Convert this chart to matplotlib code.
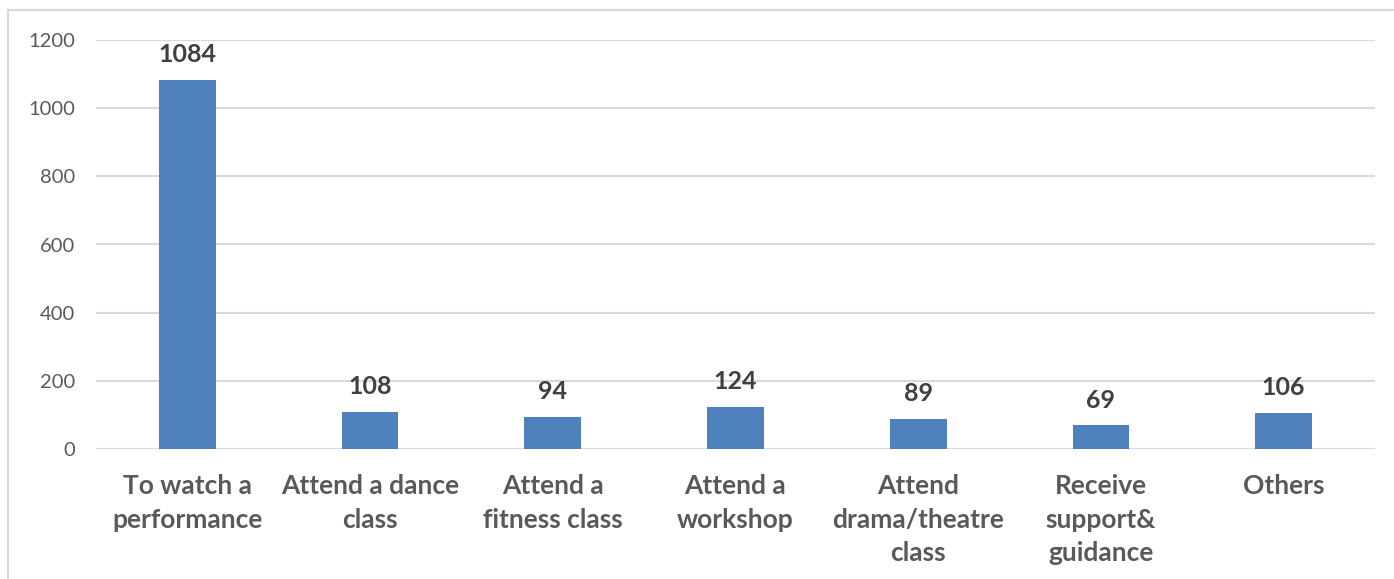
import matplotlib.pyplot as plt
from matplotlib.lines import Line2D
import numpy as np

# Data
categories = ['To watch a\nperformance', 'Attend a dance\nclass', 'Attend a\nfitness class',
              'Attend a\nworkshop', 'Attend\ndrama/theatre\nclass', 'Receive\nsupport&\nguidance',
              'Others']
counts = [1084, 108, 94, 124, 89, 69, 106]
y_ticks = [0, 200, 400, 600, 800, 1000, 1200]

plt.rcParams['font.family'] = ['Lato', 'DejaVu Sans']

fig = plt.figure(figsize=(13.94, 5.79), dpi=100)
ax = fig.add_axes([96 / 1394, 1 - 449 / 579, (1375 - 96) / 1394, (449 - 40) / 579])

x = np.arange(len(categories))
ax.bar(x, counts, width=0.31, color='#4F81BD', zorder=3)

# Value labels above each bar
for xi, v in zip(x, counts):
    ax.annotate(str(v), (xi, v), xytext=(0, 10), textcoords='offset points',
                ha='center', va='bottom', fontsize=18, fontweight='bold', color='#404040')

ax.set_xlim(-0.5, len(categories) - 0.5)
ax.set_ylim(0, 1200)
ax.set_yticks(y_ticks)
ax.set_yticklabels([str(t) for t in y_ticks], fontsize=14.5, color='#595959')
ax.tick_params(axis='y', length=0, pad=15)
ax.set_xticks([])

ax.grid(axis='y', color='#D9D9D9', linewidth=1.5, zorder=0)
for s in ax.spines.values():
    s.set_visible(False)
ax.axhline(0, color='#D9D9D9', linewidth=1.5, zorder=2)

# Category labels under the axis
for xi, c in zip(x, categories):
    ax.text(xi, -0.062, c, transform=ax.get_xaxis_transform(), ha='center', va='top',
            fontsize=19, fontweight='bold', color='#595959', linespacing=1.47)

# Outer chart frame (left and top edges visible)
fig.add_artist(Line2D([8 / 1394, 8 / 1394], [0, 1 - 10 / 579], color='#D9D9D9', linewidth=1.5))
fig.add_artist(Line2D([8 / 1394, 1], [1 - 10 / 579, 1 - 10 / 579], color='#D9D9D9', linewidth=1.5))

fig.savefig('out.png', dpi=100)
